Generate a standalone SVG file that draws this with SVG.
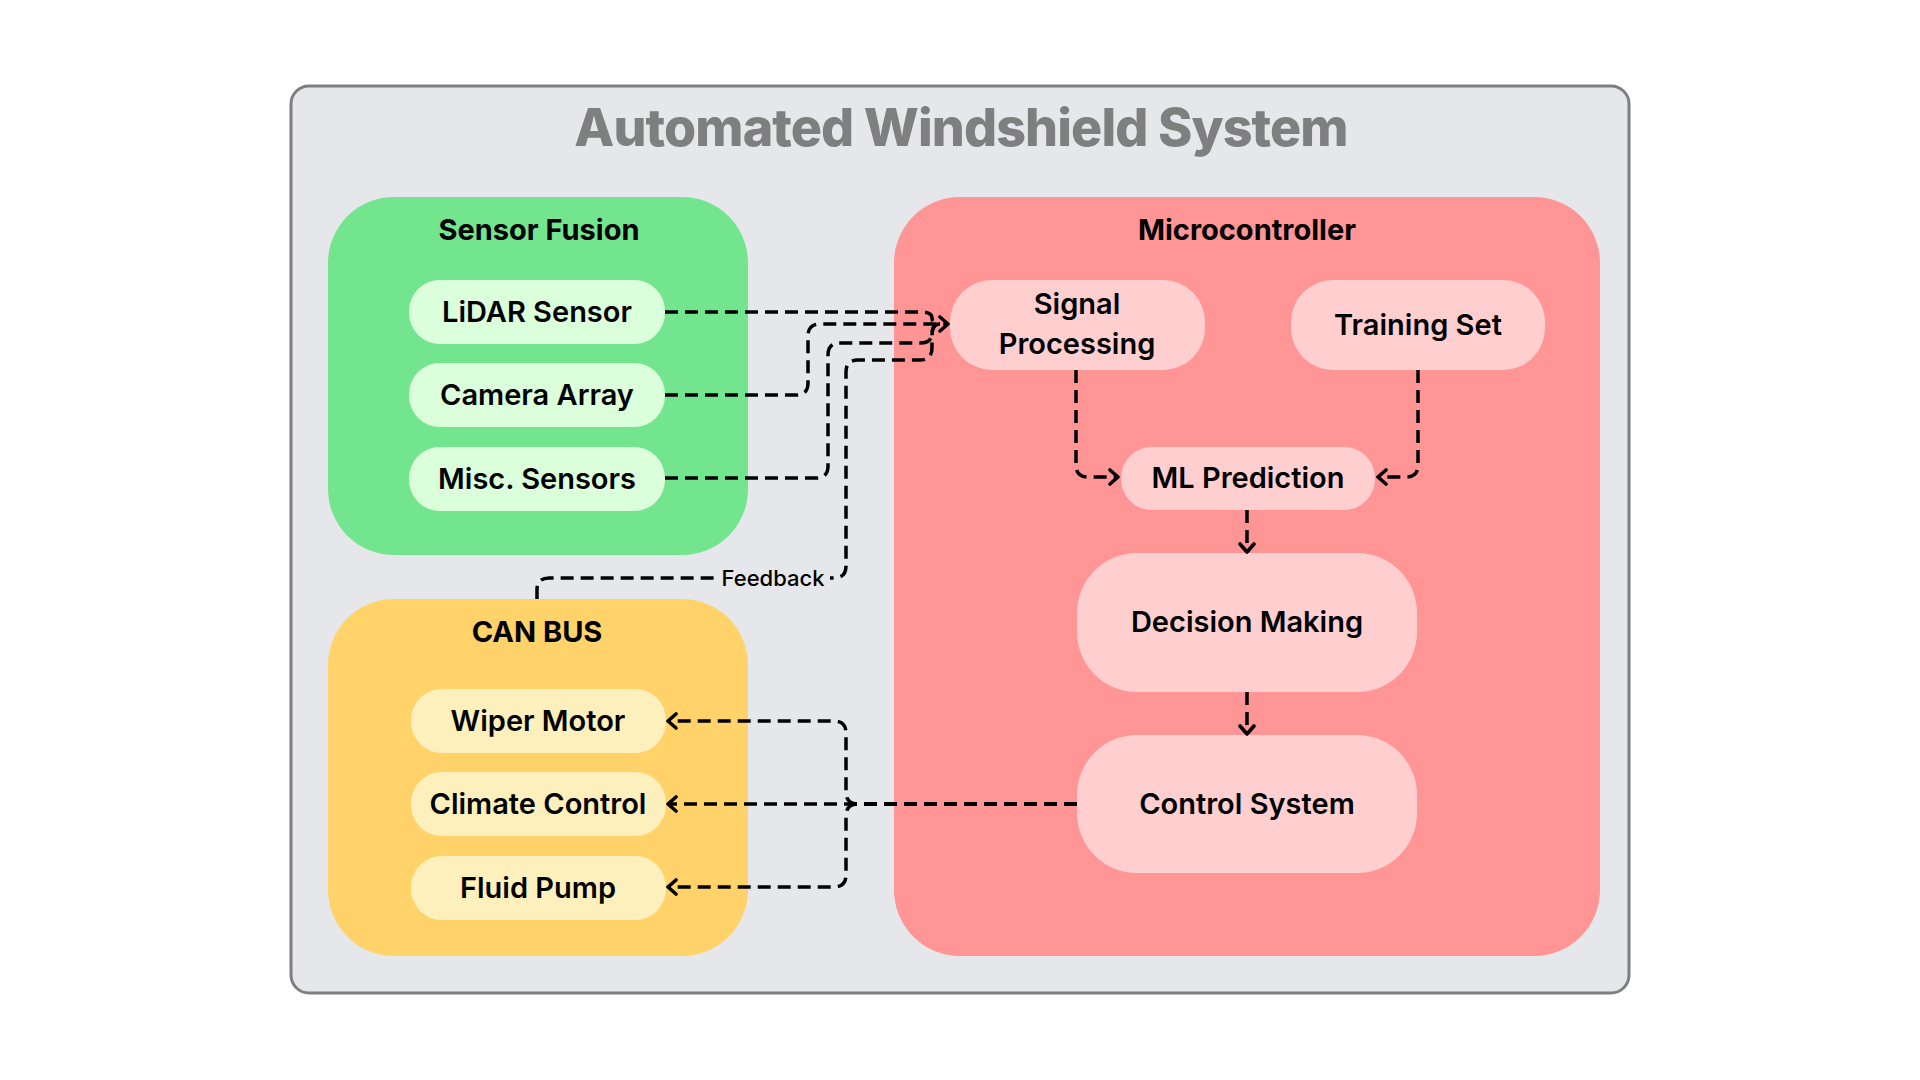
<svg xmlns="http://www.w3.org/2000/svg" width="1920" height="1080" viewBox="0 0 1920 1080">
<style>
.t{font-family:Inter,"Noto Sans","Liberation Sans",sans-serif;fill:#000;text-anchor:middle}
.node{font-size:29px;font-weight:600}
.grp{font-size:29px;font-weight:700}
.c{fill:none;stroke:#000;stroke-width:3.5;stroke-dasharray:13 7}
.ca{marker-end:url(#arr)}
</style>
<defs>
<marker id="arr" viewBox="0 0 16 18" markerWidth="16" markerHeight="18" refX="12" refY="9" orient="auto" markerUnits="userSpaceOnUse">
<path d="M4,2 L12,9 L4,16" fill="none" stroke="#000" stroke-width="3.6" stroke-linecap="round" stroke-linejoin="round"/>
</marker>
</defs>
<rect width="1920" height="1080" fill="#fff"/>
<g id="frame">
<rect x="291" y="86" width="1338" height="907" rx="18" fill="#e6e7eb" stroke="#7f7f7f" stroke-width="3"/>
<text class="t" x="961" y="146" style="font-size:52px;font-weight:800;fill:#7f7f7f;letter-spacing:-0.9px">Automated Windshield System</text>
</g>
<g id="sensor-fusion">
<rect x="328" y="197" width="420" height="358" rx="66" fill="#73e58e"/>
<text class="t grp" x="539" y="240">Sensor Fusion</text>
</g>
<g id="microcontroller">
<rect x="894" y="197" width="706" height="759" rx="66" fill="#ff9594"/>
<text class="t grp" x="1247" y="240">Microcontroller</text>
</g>
<g id="can-bus">
<rect x="328" y="599" width="420" height="357" rx="66" fill="#ffd36a"/>
<text class="t grp" x="537" y="642">CAN BUS</text>
</g>
<g id="lidar-sensor">
<rect x="409" y="280" width="256" height="64" rx="31" fill="#dbfedb"/>
<text class="t node" x="537" y="322">LiDAR Sensor</text>
</g>
<g id="camera-array">
<rect x="409" y="363" width="256" height="64" rx="31" fill="#dbfedb"/>
<text class="t node" x="537" y="405">Camera Array</text>
</g>
<g id="misc-sensors">
<rect x="409" y="447" width="256" height="64" rx="31" fill="#dbfedb"/>
<text class="t node" x="537" y="489">Misc. Sensors</text>
</g>
<g id="signal-processing">
<rect x="950" y="280" width="255" height="90" rx="42" fill="#ffcfcf"/>
<text class="t node" x="1077" y="314">Signal</text>
<text class="t node" x="1077" y="354">Processing</text>
</g>
<g id="training-set">
<rect x="1291" y="280" width="254" height="90" rx="42" fill="#ffcfcf"/>
<text class="t node" x="1418" y="335">Training Set</text>
</g>
<g id="ml-prediction">
<rect x="1121" y="447" width="254" height="63" rx="31" fill="#ffcfcf"/>
<text class="t node" x="1248" y="488">ML Prediction</text>
</g>
<g id="decision-making">
<rect x="1077" y="553" width="340" height="139" rx="60" fill="#ffcfcf"/>
<text class="t node" x="1247" y="632">Decision Making</text>
</g>
<g id="control-system">
<rect x="1077" y="735" width="340" height="138" rx="60" fill="#ffcfcf"/>
<text class="t node" x="1247" y="814">Control System</text>
</g>
<g id="wiper-motor">
<rect x="411" y="689" width="255" height="64" rx="31" fill="#fdf0bc"/>
<text class="t node" x="538" y="731">Wiper Motor</text>
</g>
<g id="climate-control">
<rect x="411" y="772" width="255" height="64" rx="31" fill="#fdf0bc"/>
<text class="t node" x="538" y="814">Climate Control</text>
</g>
<g id="fluid-pump">
<rect x="411" y="856" width="255" height="64" rx="31" fill="#fdf0bc"/>
<text class="t node" x="538" y="898">Fluid Pump</text>
</g>
<g id="connectors">
<path class="c" d="M665 312 H920 Q932 312 932 318 Q932 324 940 324"/>
<path class="c" d="M665 478 H816 Q828 478 828 466 V355 Q828 343 840 343 H920 Q932 343 932 333 Q932 324 940 324"/>
<path class="c" d="M537 599 V590 Q537 578 549 578 H834 Q846 578 846 566 V372 Q846 360 858 360 H920 Q932 360 932 348 V336 Q932 324 940 324"/>
<path class="c ca" d="M665 395 H796 Q808 395 808 383 V336 Q808 324 820 324 H948"/>
<path class="c ca" d="M1076 370 V465 Q1076 477 1088 477 H1118"/>
<path class="c ca" d="M1418 370 V465 Q1418 477 1406 477 H1378"/>
<path class="c ca" d="M1247 510 V552"/>
<path class="c ca" d="M1247 692 V734"/>
<path class="c ca" d="M1077 804 H668"/>
<path class="c ca" d="M1077 804 H858 Q846 804 846 792 V733 Q846 721 834 721 H668"/>
<path class="c ca" d="M1077 804 H858 Q846 804 846 816 V875 Q846 887 834 887 H668"/>
<rect x="716" y="564" width="114" height="28" fill="#e6e7eb"/>
<text class="t" x="773" y="586" style="font-size:22px;font-weight:500">Feedback</text>
</g>
</svg>
